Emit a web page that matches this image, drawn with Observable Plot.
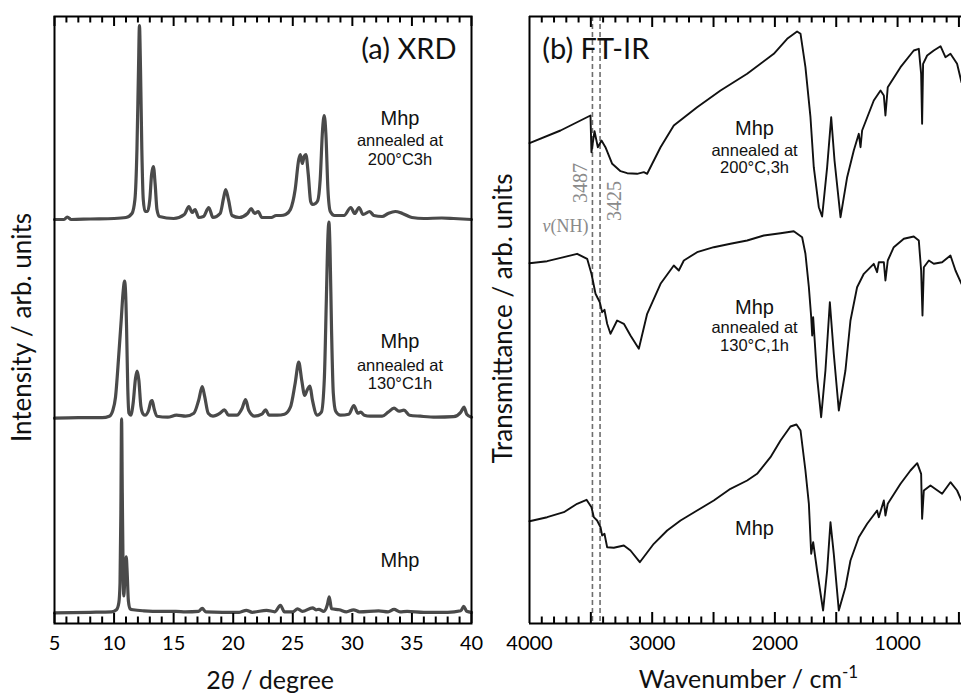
<!DOCTYPE html>
<html><head><meta charset="utf-8">
<script src="https://cdn.jsdelivr.net/npm/d3@7"></script>
<script src="https://cdn.jsdelivr.net/npm/@observablehq/plot@0.6"></script>
<style>
body{margin:0;background:#fff;overflow:hidden}
#wrap{position:relative;width:961px;height:694px;background:#fff}
#wrap svg{position:absolute;top:0;overflow:visible;max-width:none;background:transparent}
</style></head><body><div id="wrap"></div>
<script>
// ---------- XRD data (2θ in degree, intensity above each trace's baseline, arb. units) ----------
const xrd200Deg = [5,5.8,6.07,6.4,8,10,11.0,11.5,11.75,11.92,12.05,12.13,12.22,12.33,12.45,12.6,12.8,13.0,13.15,13.3,13.45,13.6,13.8,15,15.9,16.28,16.55,16.8,17.1,17.5,17.95,18.3,18.9,19.2,19.37,19.6,19.9,20.5,21.2,21.5,21.8,22.1,22.4,23.2,23.6,24.0,24.4,24.8,25.2,25.5,25.63,25.8,25.95,26.1,26.3,26.5,26.66,26.9,27.1,27.3,27.5,27.64,27.78,27.95,28.15,28.5,29.3,29.87,30.2,30.56,30.9,31.46,31.8,32.5,33.0,33.6,34.2,35,36,37.5,38.5,40];
const xrd200I   = [0,0,2.5,0,0.5,1,2,6,20,70,150,194,150,70,20,8,8,20,45,53,35,10,3,1,5,13,7,10,2,3,12,2,6,22,30,20,4,2,6,11,6,8,2,2,4,4,5,10,30,60,65,56,63,65,45,18,15,16,19,40,90,104,85,30,8,4,4,12,6,12,5,8,4,3,6,8,6,2,1,1.5,1,0];
const xrd130Deg = [5,7,9.0,9.6,9.9,10.12,10.4,10.6,10.75,10.88,10.97,11.05,11.15,11.25,11.4,11.6,11.8,11.94,12.08,12.25,12.45,12.6,12.9,13.1,13.2,13.35,13.6,14.5,15.24,16.0,16.7,17.1,17.4,17.6,17.9,18.3,18.9,19.27,19.6,20.3,20.75,21.04,21.3,21.8,22.4,22.72,23.0,23.7,24.3,24.8,25.2,25.5,25.75,26.0,26.2,26.44,26.65,27.05,27.4,27.65,27.82,27.95,28.03,28.12,28.25,28.4,28.6,29.0,29.7,30.13,30.45,30.7,31.0,31.5,32.5,33.0,33.5,33.9,34.33,34.8,35.7,37,38.5,39.1,39.37,39.6,40];
const xrd130I   = [0,0.5,0.5,2,8,21,64,98,125,137,125,90,30,5,3,15,40,47,38,12,4,3,8,17,17.7,10,2,1,3,2,5,18,31.7,22,5,2,5,8.4,3,3,10,18.7,8,2,4,8.4,3,3,4,11,35,56,38,22.7,28,32,18,3,6,40,120,182,196,172,90,25,7,3,4,12.7,5,6,3,2,2,6,10,7,8,3,2,1,1.5,6,11,4,1];
const xrdMhpDeg = [5,8,9.8,10.2,10.4,10.5,10.57,10.63,10.69,10.76,10.82,10.92,11.02,11.1,11.2,11.35,11.6,12.5,14,15.2,16,17.1,17.4,17.7,20.5,21.1,21.6,22.8,23.5,23.96,24.3,25.0,25.4,25.8,26.66,26.95,27.2,27.6,27.9,28.06,28.25,28.9,29.5,30.1,30.6,32.2,33.0,33.5,34,34.6,36,38,39.1,39.35,39.6,40];
const xrdMhpI   = [0,0.5,1,3,10,30,100,194,120,40,17,40,56,40,12,4,3,2,1.5,1.5,1,1.5,4.5,1,0.5,2.5,0.5,2.5,1,7.5,1,1,4,1.5,5,3,3.5,1.5,8,16,4,3,1,3,1,2,1,3.5,1,1.5,0.5,0.5,2,6.5,1.5,0.5];
const xrdOffsets = [10.7, 205.3, 404];           // baselines: Mhp, 130°C, 200°C
const xrdMajor = [5,10,15,20,25,30,35,40];

// ---------- FT-IR data (wavenumber in cm-1, transmittance in arb. units incl. offset) ----------
const ir200Wn = [4000,3747,3503,3495,3470,3443,3413,3381,3326,3258,3204,3123,3068,3041,2932,2824,2634,2443,2226,2009,1900,1819,1791,1751,1710,1683,1642,1615,1574,1541,1514,1465,1411,1357,1316,1302,1289,1194,1139,1112,1099,1080,976,868,827,808,800,792,759,705,650,610,569,515,479];
const ir200T  = [480.3,493,508,471.3,492.3,476.3,483,476.3,459.7,452.3,450.3,449.7,451.3,449.7,476.3,498,516.3,533,549.7,569.7,584.7,592,589.7,556.3,506.3,456.3,416.3,407,456.3,506.3,463,406.3,446.3,473,489.7,476.3,493,523,533,528,508,536.3,556.3,573,574.7,549.7,499.7,559.7,568,573,577.3,566.3,569.7,559.7,541.3];
const ir130Wn = [4000,3856,3720,3612,3530,3495,3462,3427,3408,3389,3367,3340,3286,3231,3177,3109,3041,2932,2824,2783,2742,2634,2498,2362,2226,2090,1954,1846,1778,1751,1723,1704,1696,1688,1656,1623,1588,1552,1520,1479,1425,1384,1330,1275,1194,1167,1153,1112,1099,1080,1031,949,868,827,808,797,786,745,705,637,569,528,479];
const ir130T  = [360.3,362.3,366.3,369.7,364.7,349.7,329.7,321.3,311.3,313.7,299.7,289.7,303,299.7,288,274.7,309.7,339.7,358,353,363,371.3,376.3,379.7,383,388,390.3,392.3,386.3,369.7,336.3,306.3,288,306.3,246.3,206.3,253,321.3,269.7,213,253,303,336.3,349.7,359.7,351.3,361.3,361.3,343,363,376.3,384.7,387,383,353,308,356.3,363,359.7,361.3,368,353,339.7];
const irMhpWn = [4000,3856,3720,3612,3535,3495,3476,3449,3421,3408,3389,3367,3313,3231,3177,3101,2987,2878,2769,2634,2498,2362,2226,2145,2036,1954,1873,1824,1791,1751,1723,1704,1688,1656,1607,1574,1547,1520,1479,1425,1384,1316,1248,1167,1153,1112,1099,1080,976,895,840,808,800,786,732,637,569,515,479];
const irMhpT  = [102.3,106.3,111.3,119.7,123.7,116.3,106.3,103,96.3,88,89.7,76.3,75.7,78,73,61.3,79.7,93,103,113,123,134.7,143,149.7,166.3,183,197,199,193,153,119.7,69.7,81.3,53,13,53,101.3,69.7,13,36.3,63,86.3,99.7,113,106.3,123,108,119.7,139.7,153,160.3,149.7,104.7,133,138,129.7,141.3,133,123];
const irMajor = [3500,3000,2500,2000,1500,1000,500];
const irTickLabels = [4000,3000,2000,1000];
const nhLines = [3487, 3425];

// ---------- annotations (positions in data units) ----------
const xrdNotes = [
  {x:34, y:505, t:"Mhp", s:20}, {x:34, y:483, t:"annealed at", s:16.5}, {x:34, y:464, t:"200°C3h", s:16.5},
  {x:34, y:282, t:"Mhp", s:20}, {x:34, y:258, t:"annealed at", s:16.5}, {x:34, y:239.5, t:"130°C1h", s:16.5},
  {x:34, y:62.5, t:"Mhp", s:20}
];
const irNotes = [
  {x:2166, y:494.5, t:"Mhp", s:20}, {x:2166, y:473, t:"annealed at", s:16.5}, {x:2166, y:455.5, t:"200°C,3h", s:16.5},
  {x:2166, y:316, t:"Mhp", s:20}, {x:2166, y:296, t:"annealed at", s:16.5}, {x:2166, y:278, t:"130°C,1h", s:16.5},
  {x:2166, y:95, t:"Mhp", s:20}
];
const nhLabels = [{x:3581, y:440.5, t:"3487"}, {x:3303, y:422.5, t:"3425"}];
const nhNote = [{x:3520, y:397, t:"ν(NH)"}];
const xrdTitle = [{x:38.74, y:573.5, t:"(a) XRD"}];
const irTitle  = [{x:3896, y:574, t:"(b) FT-IR"}];
const xrdYLabel = [{x:2.31, y:296, t:"Intensity / arb. units"}];
const xrdXLabel = [{x:23.1, y:-57, t:"2θ / degree"}];
const irYLabel  = [{x:4212, y:305, t:"Transmittance / arb. units"}];
const irXLabel  = [{x:2215, y:-56, t:"Wavenumber / cm-1"}];

// ---------- build tables ----------
function series(xs, ys, off, name){ return xs.map((x,i)=>({x, y: ys[i] + off, name})); }
const xrdData = [
  ...series(xrdMhpDeg, xrdMhpI, xrdOffsets[0], "Mhp"),
  ...series(xrd130Deg, xrd130I, xrdOffsets[1], "130"),
  ...series(xrd200Deg, xrd200I, xrdOffsets[2], "200")
];
const irData = [
  ...series(irMhpWn, irMhpT, 0, "Mhp"),
  ...series(ir130Wn, ir130T, 0, "130"),
  ...series(ir200Wn, ir200T, 0, "200")
];
const FH = 607;   // frame height in data units (1 unit = 1 px)
const xrdMinor = d3.range(5, 41).filter(d => d % 5 !== 0);
const irMinor = d3.range(3900, 479, -100).filter(d => d % 500 !== 0);

const sans = "Lato, 'Noto Sans', sans-serif";
const arial = "'Liberation Sans', Arial, sans-serif";
const serif = "'Liberation Serif', 'DejaVu Serif', serif";

// inward ticks on bottom and top edges (as rule rows through the y scale)
function edgeTicks(values, len){
  const rows = values.flatMap(v => [{x: v, y1: 0, y2: len}, {x: v, y1: FH - len, y2: FH}]);
  return Plot.ruleX(rows, {x: "x", y1: "y1", y2: "y2", stroke: "#000", strokeWidth: 2});
}
const txt = (data, o) => Plot.text(data, {x: "x", y: "y", text: "t", lineAnchor: "middle", fill: "#111", ...o});

const left = Plot.plot({
  width: 480, height: 694,
  marginLeft: 54, marginRight: 9, marginTop: 16, marginBottom: 71,
  style: {fontFamily: sans, background: "transparent", overflow: "visible"},
  x: {domain: [5, 40]},
  y: {domain: [0, FH], axis: null},
  marks: [
    Plot.line(xrdData, {x: "x", y: "y", z: "name", stroke: "#4a4a4a", strokeWidth: 3.2, curve: "monotone-x"}),
    Plot.frame({stroke: "#000", strokeWidth: 2}),
    Plot.axisX({ticks: xrdMajor, tickSize: 0, tickPadding: 12, fontSize: 20, label: null}),
    txt(xrdNotes, {fontSize: d => d.s, fontFamily: arial}),
    txt(xrdTitle, {textAnchor: "end", fontSize: 29}),
    txt(xrdYLabel, {rotate: -90, fontSize: 26}),
    txt(xrdXLabel, {fontSize: 25}),
    edgeTicks(xrdMajor, 10),
    edgeTicks(xrdMinor, 6.5)
  ]
});

const right = Plot.plot({
  width: 481, height: 694,
  marginLeft: 49, marginRight: 0, marginTop: 16, marginBottom: 71,
  style: {fontFamily: sans, background: "transparent", overflow: "visible"},
  x: {domain: [4000, 479]},
  y: {domain: [0, FH], axis: null},
  marks: [
    Plot.ruleX(nhLines, {stroke: "#6e6e6e", strokeWidth: 1.6, strokeDasharray: "5,3"}),
    Plot.line(irData, {x: "x", y: "y", z: "name", stroke: "#111", strokeWidth: 1.9}),
    Plot.ruleX([4000], {stroke: "#000", strokeWidth: 2}),
    Plot.ruleY([0, FH], {stroke: "#000", strokeWidth: 2}),
    Plot.axisX({ticks: irTickLabels, tickSize: 0, tickPadding: 12, fontSize: 20, label: null, tickFormat: d => String(d)}),
    txt(irNotes, {fontSize: d => d.s, fontFamily: arial}),
    txt(nhLabels, {rotate: -90, fontSize: 20, fontFamily: serif, fill: "#8a8a8a"}),
    txt(nhNote, {textAnchor: "end", fontSize: 18, fontFamily: serif, fill: "#8a8a8a"}),
    txt(irTitle, {textAnchor: "start", fontSize: 29}),
    txt(irYLabel, {rotate: -90, fontSize: 26}),
    txt(irXLabel, {fontSize: 25}),
    edgeTicks(irMajor, 11),
    edgeTicks(irMinor, 6.5)
  ]
});

const wrap = document.getElementById("wrap");
left.style.left = "0px";
right.style.left = "480px";
wrap.appendChild(left);
wrap.appendChild(right);

// rich text details (italic θ, superscript, italic ν)
function fix(svg, plain, html){
  svg.querySelectorAll("text").forEach(t => { if (t.textContent === plain) t.innerHTML = html; });
}
fix(left, "2θ / degree", '2<tspan font-style="italic">θ</tspan> / degree');
fix(right, "Wavenumber / cm-1", 'Wavenumber / cm<tspan dy="-0.55em" font-size="0.68em">-1</tspan>');
fix(right, "ν(NH)", '<tspan font-style="italic">ν</tspan>(NH)');
</script></body></html>
